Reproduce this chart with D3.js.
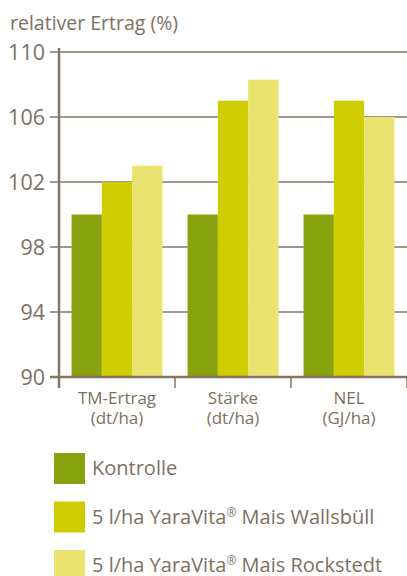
<!DOCTYPE html>
<html>
<head>
<meta charset="utf-8">
<script src="https://cdn.jsdelivr.net/npm/d3@7"></script>
<style>
  body { margin: 0; background: #fff; }
  svg text { font-family: "Open Sans", sans-serif; fill: #7d7060; }
</style>
</head>
<body>
<div id="chart"></div>
<script>
// categories and series
const categories = ['TM-Ertrag', 'Stärke', 'NEL'];
const categoryUnits = ['(dt/ha)', '(dt/ha)', '(GJ/ha)'];
const seriesNames = ['Kontrolle', '5 l/ha YaraVita® Mais Wallsbüll', '5 l/ha YaraVita® Mais Rockstedt'];
const kontrolle = [100, 100, 100];
const wallsbuell = [102, 107, 107];
const rockstedt = [103, 108.3, 106];
const yTicks = [90, 94, 98, 102, 106, 110];
const seriesColors = ['#87a20e', '#cfcc00', '#ebe36f'];

const width = 407, height = 576;
const margin = { top: 52, right: 0, bottom: 199, left: 59 };
const lineColor = '#857562';

const svg = d3.select('#chart').append('svg')
    .attr('width', width)
    .attr('height', height);

const x = d3.scaleBand()
    .domain(categories)
    .range([margin.left, width - margin.right])
    .paddingInner(0).paddingOuter(0);

const xInner = d3.scaleBand()
    .domain(seriesNames)
    .range([0, x.bandwidth()])
    .paddingInner(0).paddingOuter(0.415);

const y = d3.scaleLinear()
    .domain([90, 110])
    .range([height - margin.bottom, margin.top]);

// title
svg.append('text')
    .attr('x', 10).attr('y', 30)
    .style('font-size', '19.5px')
    .text('relativer Ertrag (%)');

// gridlines + tick marks
svg.append('g').selectAll('line')
    .data(yTicks.filter(d => d !== 90))
    .join('line')
    .attr('x1', margin.left - 9).attr('x2', width)
    .attr('y1', d => y(d)).attr('y2', d => y(d))
    .attr('stroke', lineColor).attr('stroke-width', 1.5);

svg.append('g').selectAll('text')
    .data(yTicks)
    .join('text')
    .attr('x', 45).attr('y', d => y(d))
    .attr('dy', '0.36em')
    .attr('text-anchor', 'end')
    .style('font-size', '21.5px')
    .text(d => d);

// bars
const data = categories.map((c, i) => ({
    category: c,
    values: [kontrolle[i], wallsbuell[i], rockstedt[i]]
}));

const groups = svg.append('g').selectAll('g')
    .data(data)
    .join('g')
    .attr('transform', d => `translate(${x(d.category)},0)`);

groups.selectAll('rect')
    .data(d => d.values.map((v, j) => ({ series: seriesNames[j], value: v, j: j })))
    .join('rect')
    .attr('x', d => xInner(d.series))
    .attr('width', xInner.bandwidth())
    .attr('y', d => y(d.value))
    .attr('height', d => y(90) - y(d.value))
    .attr('fill', d => seriesColors[d.j]);

// axes
const base = y(90);
svg.append('line')
    .attr('x1', margin.left - 9).attr('x2', width)
    .attr('y1', base).attr('y2', base)
    .attr('stroke', lineColor).attr('stroke-width', 2.5);
svg.append('line')
    .attr('x1', margin.left).attr('x2', margin.left)
    .attr('y1', margin.top - 4).attr('y2', base + 11)
    .attr('stroke', lineColor).attr('stroke-width', 2.5);
svg.append('g').selectAll('line')
    .data(categories)
    .join('line')
    .attr('x1', d => x(d) + x.bandwidth()).attr('x2', d => x(d) + x.bandwidth())
    .attr('y1', base).attr('y2', base + 11)
    .attr('stroke', lineColor).attr('stroke-width', 1.5);

// category labels
const labels = svg.append('g').selectAll('text')
    .data(categories)
    .join('text')
    .attr('text-anchor', 'middle')
    .attr('x', d => x(d) + x.bandwidth() / 2)
    .style('font-size', '17px');
labels.append('tspan').attr('x', d => x(d) + x.bandwidth() / 2).attr('y', base + 27).text(d => d);
labels.append('tspan').attr('x', d => x(d) + x.bandwidth() / 2).attr('y', base + 47).text((d, i) => categoryUnits[i]);

// legend
const legend = svg.append('g').selectAll('g')
    .data(seriesNames)
    .join('g')
    .attr('transform', (d, i) => `translate(54,${453 + i * 48.5})`);
legend.append('rect')
    .attr('width', 31).attr('height', 31)
    .attr('fill', (d, i) => seriesColors[i]);
const legendText = legend.append('text')
    .attr('x', 38).attr('y', 22)
    .style('font-size', '20px');
// ® kleiner und hochgestellt
legendText.each(function(d) {
    const parts = d.split('®');
    const t = d3.select(this);
    parts.forEach((p, k) => {
        if (k > 0) {
            t.append('tspan').attr('dy', -7).style('font-size', '12px').text('®');
            t.append('tspan').attr('dy', 7).text(p);
        } else {
            t.append('tspan').text(p);
        }
    });
});
</script>
</body>
</html>
